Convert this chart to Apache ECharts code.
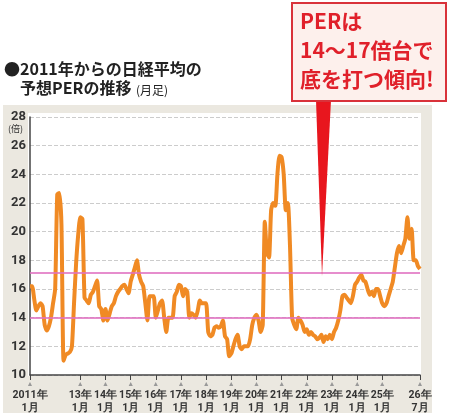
<!DOCTYPE html>
<html><head><meta charset="utf-8">
<script src="https://cdn.jsdelivr.net/npm/echarts@6/dist/echarts.min.js"></script>
<style>html,body{margin:0;padding:0;background:#fff}#chart{width:450px;height:418px}</style>
</head><body><div id="chart"></div>
<script>
const per2011 = [16.2,16.2,15.3,14.5,14.8,15.0,14.8,13.5,13.1,13.4,14.0,15.0]
const per2012 = [16.0,22.6,22.7,20.5,11.0,11.4,11.5,11.6,12.0,15.0,17.8,19.8]
const per2013 = [21.0,20.9,15.4,15.2,15.0,15.6,15.8,16.2,16.6,14.8,14.6,13.8]
const per2014 = [14.6,13.8,14.3,14.8,15.0,15.5,15.8,16.0,16.2,16.3,16.0,15.7]
const per2015 = [16.5,17.0,17.5,18.0,17.0,16.5,16.2,15.0,13.8,15.5,15.5,15.5]
const per2016 = [14.0,14.5,15.0,15.2,14.0,13.0,14.0,14.0,14.0,15.5,15.8,16.3]
const per2017 = [16.2,15.5,16.0,15.8,14.0,14.3,14.2,14.0,14.5,15.2,15.0,15.0]
const per2018 = [15.0,13.0,12.7,12.8,13.3,13.4,13.3,13.4,13.8,12.7,12.5,11.3]
const per2019 = [11.5,12.0,12.5,12.8,12.0,11.8,12.0,12.0,12.0,12.5,13.5,14.0]
const per2020 = [14.2,13.8,13.0,13.5,20.7,18.5,18.2,21.5,22.0,21.8,24.0,25.3]
const per2021 = [25.2,24.0,21.5,22.0,19.0,14.0,13.5,13.2,14.0,13.8,13.5,13.0]
const per2022 = [13.2,12.8,13.0,12.8,12.7,12.5,12.6,12.8,12.3,12.7,12.5,12.8]
const per2023 = [12.5,13.0,13.3,13.8,14.5,15.5,15.6,15.4,15.2,15.0,15.5,16.3]
const per2024 = [16.5,16.8,17.0,16.6,16.5,16.0,15.6,15.8,15.5,16.0,16.0,15.5]
const per2025 = [15.0,14.8,15.0,15.5,16.0,16.5,17.5,18.5,19.0,18.5,19.0,19.5]
const per2026 = [21.0,19.5,20.2,18.0,18.0,17.6,17.4]
const bands = [17.1, 14.0]
const yTicks = [10, 28, 2]

const perValues = [].concat(per2011, per2012, per2013, per2014, per2015, per2016, per2017, per2018,
  per2019, per2020, per2021, per2022, per2023, per2024, per2025, per2026)
const months = perValues.map((v, i) => [2011 + Math.floor(i / 12), (i % 12) + 1])
const categories = months.map(m => m[0] + '-' + m[1])
const isTick = i => months[i][1] === 1 || i === months.length - 1

const chart = echarts.init(document.getElementById('chart'))
chart.setOption({
  animation: false,
  backgroundColor: '#fff',
  grid: { left: 30, right: 30, top: 117, bottom: 43 },
  graphic: [
    { type: 'rect', z: -10, shape: { x: 3, y: 105, width: 429, height: 308 }, style: { fill: '#ebe8e0' } },
    { type: 'rect', z: -9, shape: { x: 28, y: 113, width: 393, height: 263 }, style: { fill: '#fff' } },
    { type: 'text', left: 4, top: 61, style: { text: '●2011年からの日経平均の', font: 'bold 16px "Noto Sans CJK JP"', fill: '#222' } },
    { type: 'text', left: 20, top: 80, style: { text: '予想PERの推移', font: 'bold 16px "Noto Sans CJK JP"', fill: '#222' } },
    { type: 'text', left: 136, top: 84, style: { text: '(月足)', font: '12px "Noto Sans CJK JP"', fill: '#222' } },
    { type: 'text', left: 8, top: 124, style: { text: '(倍)', font: '9px "Noto Sans CJK JP"', fill: '#333' } },
    { type: 'polygon', z: 20, shape: { points: [[316, 100], [331, 100], [322, 276]] }, style: { fill: '#e8161e' } },
    { type: 'rect', z: 21, shape: { x: 292, y: 3, width: 154, height: 98 }, style: { fill: '#fdf0ec', stroke: '#d9323a', lineWidth: 2 } },
    { type: 'text', z: 22, left: 300, top: 7, style: { text: 'PERは\n14〜17倍台で\n底を打つ傾向!', font: 'bold 21px "Noto Sans CJK JP"', lineHeight: 29, fill: '#e0202a' } }
  ],
  xAxis: {
    type: 'category', data: categories, boundaryGap: false,
    axisLine: { lineStyle: { color: '#444', width: 1.5 } },
    axisTick: { interval: isTick, length: 5, lineStyle: { color: '#444' } },
    axisLabel: {
      interval: isTick, showMinLabel: true, showMaxLabel: true, hideOverlap: false, margin: 4,
      formatter: (v, i) => {
        const [y, m] = months[i]
        const yl = y === 2011 ? '2011年' : String(y).slice(2) + '年'
        return '{t|▲}\n{a|' + yl + '}\n{a|' + m + '月}'
      },
      rich: {
        t: { fontSize: 7, color: '#999', lineHeight: 10 },
        a: { fontSize: 10.5, fontWeight: 'bold', color: '#333', lineHeight: 13, fontFamily: 'Roboto' }
      }
    }
  },
  yAxis: {
    type: 'value', min: yTicks[0], max: yTicks[1], interval: yTicks[2],
    axisLine: { show: true, lineStyle: { color: '#444', width: 1.5 } },
    axisTick: { show: false },
    axisLabel: { margin: 4, fontSize: 13, fontWeight: 'bold', color: '#333', fontFamily: 'Roboto' },
    splitLine: { lineStyle: { color: '#ccc', type: 'dashed' } }
  },
  series: [{
    type: 'line', data: perValues, symbol: 'none', smooth: 0.2,
    lineStyle: { color: '#f08a24', width: 4 },
    markLine: {
      silent: true, symbol: 'none', label: { show: false },
      lineStyle: { color: '#e070c0', width: 2, type: 'solid', opacity: 0.8 },
      data: bands.map(v => ({ yAxis: v }))
    }
  }]
})
</script></body></html>
